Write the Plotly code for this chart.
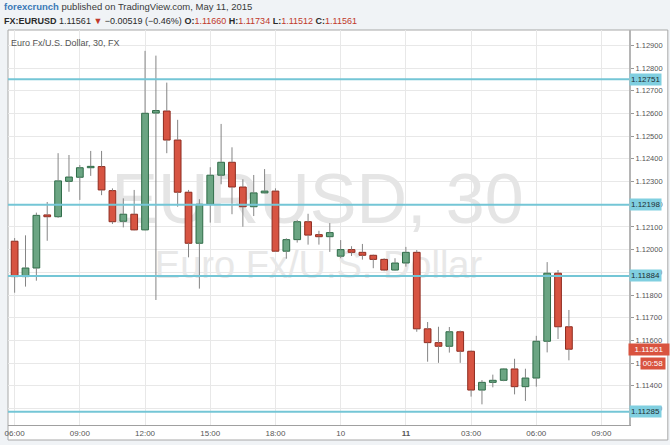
import plotly.graph_objects as go

# ---------------- data ----------------
tick_idx = [0, 6, 12, 18, 24, 30, 36, 42, 48, 54]
tick_text = ["06:00", "09:00", "12:00", "15:00", "18:00", "10", "<b>11</b>", "03:00", "06:00", "09:00"]

opens = [1.12037, 1.11881, 1.11919, 1.12153, 1.12145, 1.12301, 1.12319, 1.12361, 1.12366, 1.12260,
         1.12125, 1.12156, 1.12087, 1.12602, 1.12611, 1.12483, 1.12253, 1.12028, 1.12200, 1.12328,
         1.12385, 1.12276, 1.12189, 1.12250, 1.12258, 1.11993, 1.12044, 1.12123, 1.12066, 1.12057,
         1.11971, 1.12000, 1.11988, 1.11975, 1.11957, 1.11910, 1.11941, 1.11988, 1.11651, 1.11590,
         1.11574, 1.11638, 1.11552, 1.11381, 1.11415, 1.11424, 1.11474, 1.11396, 1.11434, 1.11596,
         1.11896, 1.11660]
highs = [1.12051, 1.12063, 1.12163, 1.12210, 1.12425, 1.12417, 1.12373, 1.12435, 1.12435, 1.12270,
         1.12226, 1.12263, 1.12876, 1.12855, 1.12736, 1.12572, 1.12263, 1.12222, 1.12363, 1.12554,
         1.12451, 1.12310, 1.12329, 1.12355, 1.12270, 1.12050, 1.12131, 1.12158, 1.12083, 1.12117,
         1.12042, 1.12015, 1.12025, 1.11978, 1.11962, 1.11962, 1.12012, 1.11998, 1.11681, 1.11660,
         1.11659, 1.11643, 1.11555, 1.11425, 1.11449, 1.11477, 1.11519, 1.11475, 1.11620, 1.11945,
         1.11910, 1.11734]
lows = [1.11810, 1.11837, 1.11863, 1.12039, 1.12140, 1.12255, 1.12219, 1.12325, 1.12240, 1.12113,
        1.12098, 1.12085, 1.12085, 1.11778, 1.12425, 1.12189, 1.11966, 1.11828, 1.12119, 1.12288,
        1.12156, 1.12101, 1.12148, 1.12248, 1.11990, 1.11960, 1.12031, 1.12022, 1.12022, 1.11990,
        1.11962, 1.11972, 1.11956, 1.11918, 1.11905, 1.11907, 1.11925, 1.11638, 1.11506, 1.11501,
        1.11546, 1.11501, 1.11352, 1.11318, 1.11393, 1.11420, 1.11362, 1.11333, 1.11396, 1.11547,
        1.11606, 1.11512]
closes = [1.11881, 1.11919, 1.12151, 1.12145, 1.12303, 1.12320, 1.12361, 1.12367, 1.12263, 1.12123,
          1.12156, 1.12087, 1.12601, 1.12613, 1.12483, 1.12253, 1.12028, 1.12200, 1.12328, 1.12385,
          1.12276, 1.12189, 1.12250, 1.12258, 1.11993, 1.12044, 1.12123, 1.12064, 1.12057, 1.12075,
          1.12000, 1.11988, 1.11975, 1.11957, 1.11910, 1.11941, 1.11988, 1.11651, 1.11590, 1.11574,
          1.11638, 1.11552, 1.11381, 1.11415, 1.11424, 1.11474, 1.11396, 1.11434, 1.11596, 1.11896,
          1.11660, 1.11561]

level_lines = [1.12751, 1.12198, 1.11884, 1.11285]
last_price = 1.11561

# ---------------- styling ----------------
UP_FILL, UP_LINE = "#6ba583", "#2e6b47"
DN_FILL, DN_LINE = "#d75442", "#8e2b1f"
WICK = "#858585"
LEVEL = "#74c6d6"
LEVEL_BOX = "#80cfe0"
FONT = "Arial, Liberation Sans, sans-serif"
XR = [-0.61, 56.53]
YR = [1.11227, 1.12968]

idx = list(range(len(opens)))
up = [i for i in idx if closes[i] >= opens[i]]
dn = [i for i in idx if closes[i] < opens[i]]

fig = go.Figure()

# watermark (bottom subplot, below candles)
fig.add_trace(go.Scatter(x=[27.87], y=[1.12195], mode="text", text=["EURUSD, 30"],
                         textfont=dict(size=70, color="#e5e5e5", family=FONT),
                         hoverinfo="skip", showlegend=False, xaxis="x", yaxis="y"))
fig.add_trace(go.Scatter(x=[27.96], y=[1.11915], mode="text", text=["Euro Fx/U.S. Dollar"],
                         textfont=dict(size=38, color="#e8e8e8", family=FONT),
                         hoverinfo="skip", showlegend=False, xaxis="x", yaxis="y"))

# bodies
for sel, fc, lc in [(up, UP_FILL, UP_LINE), (dn, DN_FILL, DN_LINE)]:
    fig.add_trace(go.Bar(
        x=sel,
        base=[min(opens[i], closes[i]) for i in sel],
        y=[abs(closes[i] - opens[i]) for i in sel],
        width=0.62,
        marker=dict(color=fc, line=dict(color=lc, width=1)),
        hoverinfo="skip", showlegend=False, xaxis="x2", yaxis="y2"))

# wicks (split above / below body)
wx, wy = [], []
for i in idx:
    top = max(opens[i], closes[i])
    bot = min(opens[i], closes[i])
    if highs[i] > top:
        wx += [i, i, None]
        wy += [top, highs[i], None]
    if lows[i] < bot:
        wx += [i, i, None]
        wy += [bot, lows[i], None]
fig.add_trace(go.Scatter(x=wx, y=wy, mode="lines", line=dict(color=WICK, width=1),
                         hoverinfo="skip", showlegend=False, xaxis="x2", yaxis="y2"))

shapes = [dict(type="rect", xref="paper", yref="paper", x0=0, x1=1.0625, y0=-0.038, y1=1,
               fillcolor="white", line=dict(color="#a8a8a8", width=1), layer="below")]
for lv in level_lines:
    shapes.append(dict(type="line", xref="paper", yref="y", x0=0, x1=1, y0=lv, y1=lv,
                       line=dict(color=LEVEL, width=2), layer="above"))

annotations = []
for lv in level_lines:
    annotations.append(dict(xref="paper", yref="y", x=1.0, y=lv, xanchor="left", yanchor="middle",
                            text=f"{lv:.5f}", showarrow=False, bgcolor=LEVEL_BOX, borderpad=1,
                            font=dict(size=8, color="#1e2e33", family=FONT)))
annotations.append(dict(xref="paper", yref="y", x=0.999, y=last_price, xanchor="left", yanchor="middle",
                        text=f"{last_price:.5f}", showarrow=False, bgcolor="#d9533f", borderpad=1,
                        width=38, font=dict(size=8, color="white", family=FONT)))
annotations.append(dict(xref="paper", yref="y", x=1.0176, y=1.11500, xanchor="left", yanchor="middle",
                        text="00:58", showarrow=False, bgcolor="#d9533f", borderpad=1,
                        width=22, font=dict(size=8, color="white", family=FONT)))
# header
annotations.append(dict(xref="paper", yref="paper", x=-0.009, y=(425 - 7) / 395, xanchor="left",
                        yanchor="middle", showarrow=False,
                        text="<span style='color:#3b79b6'><b>forexcrunch</b></span> published on TradingView.com, May 11, 2015",
                        font=dict(size=9.5, color="#3a3a3a", family=FONT)))
R = "#c0392b"
annotations.append(dict(xref="paper", yref="paper", x=-0.009, y=(425 - 20.7) / 395, xanchor="left",
                        yanchor="middle", showarrow=False,
                        text=("<b>FX:EURUSD</b> 1.11561 <span style='color:%s'>▼</span> −0.00519 (−0.46%%) "
                              "<b>O:</b><span style='color:%s'>1.11660</span> "
                              "<b>H:</b><span style='color:%s'>1.11734</span> "
                              "<b>L:</b><span style='color:%s'>1.11512</span> "
                              "<b>C:</b><span style='color:%s'>1.11561</span>") % (R, R, R, R, R),
                        font=dict(size=9, color="#2a2a2a", family=FONT)))
annotations.append(dict(xref="paper", yref="paper", x=(6 - 5) / 624, y=(425 - 43) / 395, xanchor="left",
                        yanchor="middle", showarrow=False, text="Euro Fx/U.S. Dollar, 30, FX",
                        font=dict(size=9, color="#555555", family=FONT)))

fig.update_layout(
    width=670, height=445, autosize=False,
    margin=dict(l=5, r=41, t=30, b=20),
    paper_bgcolor="#f0f3f6", plot_bgcolor="white",
    barmode="overlay", showlegend=False,
    shapes=shapes, annotations=annotations,
    xaxis=dict(range=XR, tickmode="array", tickvals=tick_idx, ticktext=tick_text,
               showgrid=True, gridcolor="#e8e8e8", gridwidth=1, zeroline=False,
               showline=True, linecolor="#a0a0a0", linewidth=1, ticks="",
               tickfont=dict(size=8, color="#555555", family=FONT)),
    yaxis=dict(range=YR, side="right", dtick=0.001, tick0=1.0, tickformat=".5f",
               showgrid=True, gridcolor="#e8e8e8", gridwidth=1, zeroline=False,
               showline=True, linecolor="#b5b5b5", linewidth=2,
               ticks="outside", ticklen=3, tickcolor="#999999",
               tickfont=dict(size=7.5, color="#555555", family=FONT)),
    xaxis2=dict(range=XR, overlaying="x", visible=False),
    yaxis2=dict(range=YR, overlaying="y", visible=False),
)

fig.write_html("out.html", config={"displayModeBar": False},
               post_script="document.body.style.margin='0px';")
